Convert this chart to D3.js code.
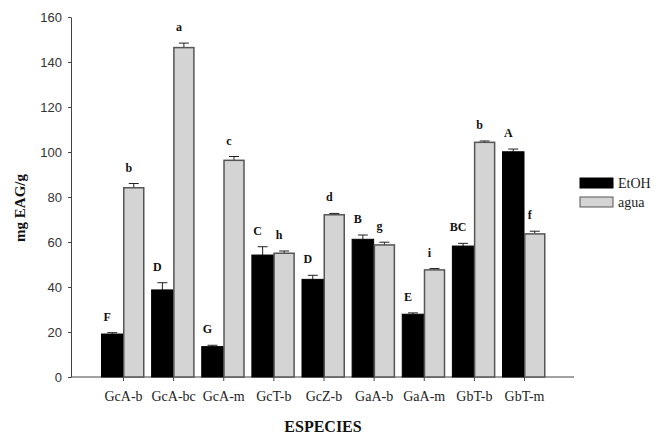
<!DOCTYPE html>
<html>
<head>
<meta charset="utf-8">
<script src="https://cdn.jsdelivr.net/npm/d3@7"></script>
<style>
  body { margin: 0; background: #fff; }
  svg { display: block; }
</style>
</head>
<body>
<div id="chart"></div>
<script>
// data
const especies = ["GcA-b", "GcA-bc", "GcA-m", "GcT-b", "GcZ-b", "GaA-b", "GaA-m", "GbT-b", "GbT-m"];
const etoh     = [19.1, 38.7, 13.5, 54.2, 43.4, 61.2, 27.9, 58.2, 100.1];
const etohErr  = [0.6, 3.2, 0.6, 3.7, 1.8, 1.9, 0.6, 1.2, 1.2];
const agua     = [84.1, 146.4, 96.3, 55.0, 72.1, 58.7, 47.6, 104.3, 63.6];
const aguaErr  = [1.9, 2.0, 1.7, 1.0, 0.6, 1.2, 0.6, 0.6, 1.2];
const etohLetters = ["F", "D", "G", "C", "D", "B", "E", "BC", "A"];
const aguaLetters = ["b", "a", "c", "h", "d", "g", "i", "b", "f"];
const yTicks = [0, 20, 40, 60, 80, 100, 120, 140, 160];

const width = 654, height = 436;
const x0 = 71, x1 = 574, yTop = 17, yBot = 377;
const barW = 21.5;
const serif = "'Liberation Serif', 'Times New Roman', serif";
const sans = "'Liberation Sans', Arial, sans-serif";

const svg = d3.select("#chart").append("svg")
  .attr("width", width)
  .attr("height", height);

const x = d3.scalePoint()
  .domain(especies)
  .range([123, 524]);

const y = d3.scaleLinear()
  .domain([0, 160])
  .range([yBot, yTop]);

// Y axis
const yAxis = svg.append("g")
  .attr("transform", `translate(${x0},0)`)
  .call(d3.axisLeft(y).tickValues(yTicks).tickSize(3).tickSizeOuter(0).tickPadding(6));
yAxis.select(".domain").attr("stroke", "#444");
yAxis.selectAll(".tick line").attr("stroke", "#444");
yAxis.selectAll("text")
  .attr("font-family", sans)
  .attr("font-size", 13)
  .attr("fill", "#333");

// X axis
const xAxis = svg.append("g")
  .attr("transform", `translate(0,${yBot})`)
  .call(d3.axisBottom(x).tickSize(4).tickSizeOuter(0).tickPadding(10));
xAxis.select(".domain").remove();
xAxis.append("line")
  .attr("x1", x0).attr("x2", x1)
  .attr("stroke", "#444");
xAxis.selectAll(".tick line").attr("stroke", "#444");
xAxis.selectAll("text")
  .attr("font-family", serif)
  .attr("font-size", 14)
  .attr("fill", "#222");

// series
const series = [
  { name: "EtOH", values: etoh, err: etohErr, letters: etohLetters, fill: "#000", stroke: "#000", dx: -barW },
  { name: "agua", values: agua, err: aguaErr, letters: aguaLetters, fill: "#d4d4d4", stroke: "#555", dx: 0 }
];

series.forEach(s => {
  const g = svg.append("g");
  const rows = especies.map((e, i) => ({ e, v: s.values[i], err: s.err[i], letter: s.letters[i] }));

  // error bars (upper only)
  g.selectAll("line.err")
    .data(rows)
    .join("line")
    .attr("x1", d => x(d.e) + s.dx + barW / 2)
    .attr("x2", d => x(d.e) + s.dx + barW / 2)
    .attr("y1", d => y(d.v))
    .attr("y2", d => y(d.v + d.err))
    .attr("stroke", "#222");
  g.selectAll("line.cap")
    .data(rows)
    .join("line")
    .attr("x1", d => x(d.e) + s.dx + barW / 2 - 5)
    .attr("x2", d => x(d.e) + s.dx + barW / 2 + 5)
    .attr("y1", d => y(d.v + d.err))
    .attr("y2", d => y(d.v + d.err))
    .attr("stroke", "#222");

  g.selectAll("rect")
    .data(rows)
    .join("rect")
    .attr("x", d => x(d.e) + s.dx + (s.dx === 0 ? 0.75 : 0))
    .attr("y", d => y(d.v))
    .attr("width", barW - (s.dx === 0 ? 1.5 : 0))
    .attr("height", d => y(0) - y(d.v))
    .attr("fill", s.fill)
    .attr("stroke", s.stroke)
    .attr("stroke-width", s.dx === 0 ? 1.5 : 1);

  g.selectAll("text")
    .data(rows)
    .join("text")
    .attr("x", d => x(d.e) + s.dx + barW / 2 - 5)
    .attr("y", d => y(d.v + d.err) - 12)
    .attr("text-anchor", "middle")
    .attr("font-family", serif)
    .attr("font-weight", "bold")
    .attr("font-size", 12)
    .attr("fill", "#111")
    .text(d => d.letter);
});

// axis titles
svg.append("text")
  .attr("transform", "translate(25,208) rotate(-90)")
  .attr("text-anchor", "middle")
  .attr("font-family", serif)
  .attr("font-weight", "bold")
  .attr("font-size", 15)
  .attr("fill", "#111")
  .text("mg EAG/g");

svg.append("text")
  .attr("x", 323)
  .attr("y", 432)
  .attr("text-anchor", "middle")
  .attr("font-family", serif)
  .attr("font-weight", "bold")
  .attr("font-size", 16)
  .attr("fill", "#111")
  .text("ESPECIES");

// legend
const legend = svg.append("g").attr("transform", "translate(580,178)");
legend.selectAll("rect")
  .data(series)
  .join("rect")
  .attr("x", 0)
  .attr("y", (d, i) => i * 19)
  .attr("width", 33)
  .attr("height", 10)
  .attr("fill", d => d.fill)
  .attr("stroke", d => d.stroke);
legend.selectAll("text")
  .data(series)
  .join("text")
  .attr("x", 38)
  .attr("y", (d, i) => i * 19 + 10)
  .attr("font-family", serif)
  .attr("font-size", 14)
  .attr("fill", "#222")
  .text(d => d.name);
</script>
</body>
</html>
